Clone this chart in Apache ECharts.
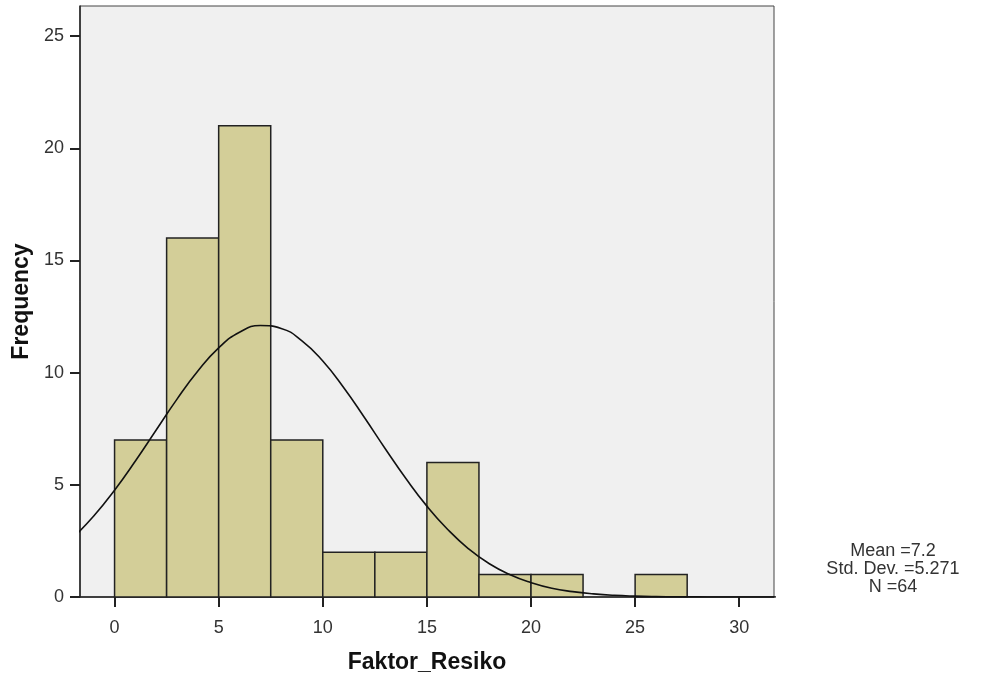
<!DOCTYPE html>
<html>
<head>
<meta charset="utf-8">
<script src="https://cdn.jsdelivr.net/npm/echarts@6/dist/echarts.min.js"></script>
<style>
  html, body { margin: 0; padding: 0; background: #fff; }
  #chart { width: 984px; height: 679px; }
</style>
</head>
<body>
<div id="chart"></div>
<script>
// histogram bins (width 2.5)
const binStarts = [0, 2.5, 5, 7.5, 10, 12.5, 15, 17.5, 20, 22.5, 25];
const binCounts = [7, 16, 21, 7, 2, 2, 6, 1, 1, 0, 1];
const binWidth = 2.5;

// normal curve
const curveX = [-2, -1, 0, 1, 2, 3, 4, 5, 6, 7, 8, 9, 10, 11, 12, 13, 14, 15, 16,
  17, 18, 19, 20, 21, 22, 23, 24, 25, 26, 27, 28, 29, 30, 31, 32];
const curveY = [2.64, 3.61, 4.76, 6.06, 7.44, 8.82, 10.07, 11.1, 11.8, 12.1, 11.97,
  11.42, 10.52, 9.34, 8.0, 6.61, 5.27, 4.05, 3.01, 2.15, 1.48, 0.99, 0.64, 0.39,
  0.24, 0.14, 0.075, 0.04, 0.02, 0.01, 0.005, 0, 0, 0, 0];

const xTicks = [0, 5, 10, 15, 20, 25, 30];
const yTicks = [0, 5, 10, 15, 20, 25];
const statLines = ['Mean =7.2', 'Std. Dev. =5.271', 'N =64'];

const myChart = echarts.init(document.getElementById('chart'));

const tickLabel = { fontFamily: 'Liberation Sans, Arial', fontSize: 18, color: '#333' };
const titleStyle = { fontFamily: 'Liberation Sans, Arial', fontSize: 23, fontWeight: 'bold', color: '#111' };

const option = {
    animation: false,
    grid: {
        left: 80, top: 6, right: 210, bottom: 82,
        outerBoundsMode: 'none',
        show: true, backgroundColor: '#f0f0f0', borderColor: '#444', borderWidth: 1
    },
    xAxis: {
        type: 'value', min: -1.66, max: 31.67,
        splitLine: { show: false },
        axisLine: { show: true, onZero: false, lineStyle: { color: '#222', width: 1.5 } },
        axisTick: { show: true, length: 10, customValues: xTicks, lineStyle: { color: '#222', width: 2 } },
        axisLabel: Object.assign({ customValues: xTicks, margin: 22 }, tickLabel),
        name: 'Faktor_Resiko', nameLocation: 'middle', nameGap: 54,
        nameTextStyle: titleStyle
    },
    yAxis: {
        type: 'value', min: 0, max: 26.34,
        splitLine: { show: false },
        axisLine: { show: true, onZero: false, lineStyle: { color: '#222', width: 1.5 } },
        axisTick: { show: true, length: 10, customValues: yTicks, lineStyle: { color: '#222', width: 2 } },
        axisLabel: Object.assign({ customValues: yTicks, margin: 16 }, tickLabel),
        name: 'Frequency', nameLocation: 'middle', nameGap: 46, nameRotate: 90,
        nameTextStyle: titleStyle
    },
    series: [
        {
            type: 'custom',
            data: binStarts.map((s, i) => [s, binCounts[i]]),
            renderItem: function (params, api) {
                const start = api.value(0);
                const count = api.value(1);
                if (!count) return null;
                const p0 = api.coord([start, count]);
                const p1 = api.coord([start + binWidth, 0]);
                return {
                    type: 'rect',
                    shape: { x: p0[0], y: p0[1], width: p1[0] - p0[0], height: p1[1] - p0[1] },
                    style: { fill: '#d3ce98', stroke: '#222', lineWidth: 1.5 }
                };
            },
            z: 2
        },
        {
            type: 'line',
            data: curveX.map((x, i) => [x, curveY[i]]),
            smooth: true,
            showSymbol: false,
            clip: true,
            lineStyle: { color: '#111', width: 1.6 },
            z: 3
        }
    ],
    // stats box on the right
    graphic: statLines.map((t, i) => ({
        type: 'text',
        x: 893, y: 551 + i * 18,
        style: {
            text: t, textAlign: 'center', textVerticalAlign: 'middle',
            fontFamily: 'Liberation Sans, Arial', fontSize: 18, fill: '#333'
        }
    }))
};

myChart.setOption(option);
</script>
</body>
</html>
